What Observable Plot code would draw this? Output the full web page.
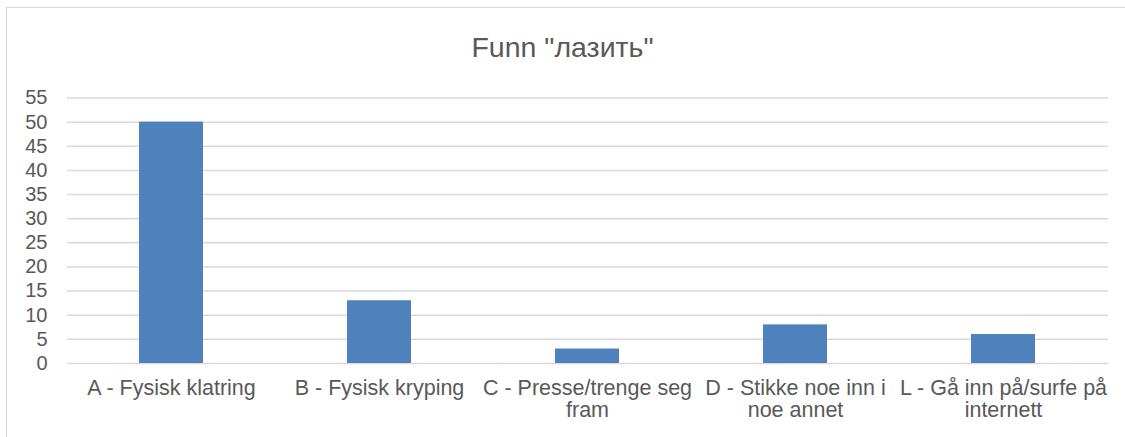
<!DOCTYPE html>
<html>
<head>
<meta charset="utf-8">
<script src="https://cdn.jsdelivr.net/npm/d3@7"></script>
<script src="https://cdn.jsdelivr.net/npm/@observablehq/plot@0.6"></script>
<style>
  html, body { margin: 0; padding: 0; background: #ffffff; }
  #chart {
    position: relative;
    width: 1125px;
    height: 437px;
    overflow: hidden;
    font-family: "Liberation Sans", Arial, sans-serif;
  }
  #frame {
    position: absolute;
    left: 6px;
    top: 7px;
    width: 1200px;
    height: 500px;
    border-left: 1.5px solid #d9d9d9;
    border-top: 1.5px solid #d9d9d9;
  }
  #title {
    position: absolute;
    left: 0;
    top: 29px;
    width: 1125px;
    text-align: center;
    font-size: 28.5px;
    line-height: 36px;
    color: #595959;
  }
  #plot {
    position: absolute;
    left: 0;
    top: 80px;
  }
</style>
</head>
<body>
<div id="chart">
  <div id="frame"></div>
  <div id="title">Funn "лазить"</div>
  <div id="plot"></div>
</div>
<script>
// Category labels and counts for each bar
const categories = [
  "A - Fysisk klatring",
  "B - Fysisk kryping",
  "C - Presse/trenge seg fram",
  "D - Stikke noe inn i noe annet",
  "L - Gå inn på/surfe på internett"
];
const counts = [50, 13, 3, 8, 6];
const yTicks = [0, 5, 10, 15, 20, 25, 30, 35, 40, 45, 50, 55];

const data = categories.map((category, i) => ({category, count: counts[i]}));

// Wrap long category names onto two lines by word
function wrap(label, maxChars = 22) {
  const words = label.split(" ");
  const lines = [];
  let line = "";
  for (const w of words) {
    const next = line ? line + " " + w : w;
    if (next.length > maxChars && line) {
      lines.push(line);
      line = w;
    } else {
      line = next;
    }
  }
  if (line) lines.push(line);
  return lines.join("\n");
}

const chart = Plot.plot({
  width: 1125,
  height: 357,
  marginLeft: 67,
  marginRight: 17,
  marginTop: 17.5,
  marginBottom: 74,
  style: {
    fontFamily: "'Liberation Sans', Arial, sans-serif",
    fontSize: "20px",
    color: "#595959",
    background: "transparent"
  },
  x: {domain: categories, paddingInner: 0.69, paddingOuter: 0.345, label: null},
  y: {domain: [0, 55], label: null},
  marks: [
    Plot.gridY(yTicks, {stroke: "#d9d9d9", strokeOpacity: 1, strokeWidth: 1.5}),
    Plot.barY(data, {x: "category", y: "count", fill: "#4f81bd"}),
    Plot.axisY(yTicks, {tickSize: 0, tickPadding: 20, label: null, fontSize: 20}),
    Plot.axisX({tickSize: 0, tickPadding: 16, label: null, fontSize: 21.5,
                lineHeight: 1.03, tickFormat: (d) => wrap(d)})
  ]
});

document.getElementById("plot").appendChild(chart);
</script>
</body>
</html>
